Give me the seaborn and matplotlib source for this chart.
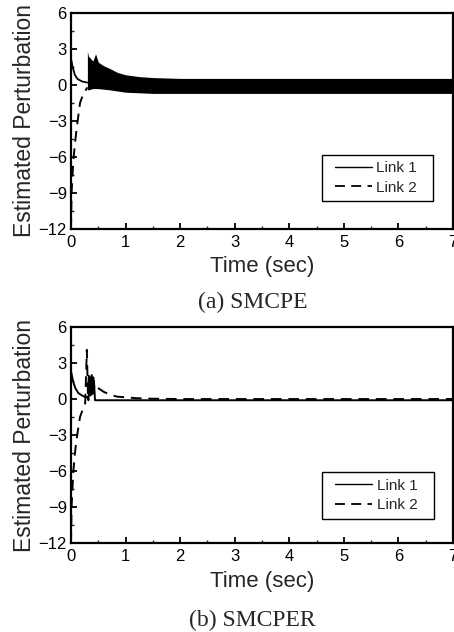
import numpy as np
import pandas as pd
import matplotlib
matplotlib.use("Agg")
import matplotlib.pyplot as plt
import seaborn as sns
from matplotlib.ticker import MultipleLocator
from matplotlib.patches import Rectangle

# ---------------- data ----------------
# (a) SMCPE
a_link1_t = [0.0, 0.03, 0.07, 0.12, 0.20, 0.28, 0.30]
a_link1_y = [2.2, 1.5, 0.85, 0.5, 0.3, 0.22, 0.2]
a_link2_t = [0.0, 0.01, 0.04, 0.07, 0.10, 0.165, 0.22, 0.26, 0.30]
a_link2_y = [-12.0, -9.0, -6.5, -5.0, -3.75, -1.5, -0.8, -0.5, -0.2]
# chattering band envelope (both links, t >= 0.3)
a_band_t = [0.30, 0.32, 0.36, 0.40, 0.45, 0.50, 0.60, 0.70, 0.85, 1.00, 1.25, 1.50, 2.00, 7.00]
a_band_hi = [2.8, 2.4, 2.2, 2.0, 2.6, 1.9, 1.6, 1.4, 1.05, 0.85, 0.70, 0.62, 0.55, 0.55]
a_band_lo = [-0.4, -0.4, -0.35, -0.3, -0.3, -0.3, -0.35, -0.4, -0.5, -0.6, -0.65, -0.7, -0.7, -0.7]

# (b) SMCPER
b_link1_t = [0.0, 0.04, 0.08, 0.135, 0.20, 0.26, 0.30, 0.32, 0.34, 0.36, 0.38, 0.40, 0.42, 0.44, 1.0, 7.0]
b_link1_y = [2.3, 1.45, 0.9, 0.5, 0.3, 0.17, 0.15, -0.1, 1.8, 0.3, 2.0, 0.5, 1.5, -0.1, -0.1, -0.1]
b_link2_t = [0.0, 0.01, 0.04, 0.07, 0.10, 0.165, 0.22, 0.26, 0.29, 0.31, 0.33, 0.35, 0.37, 0.39,
             0.41, 0.43, 0.45, 0.50, 0.60, 0.70, 0.84, 1.02, 1.20, 1.45, 2.0, 7.0]
b_link2_y = [-12.0, -9.0, -6.2, -4.6, -3.4, -1.5, -0.8, -0.35, 4.1, 0.5, 2.2, 0.6, 2.1, 0.4,
             1.8, 0.8, 1.0, 0.9, 0.6, 0.4, 0.2, 0.14, 0.07, 0.03, 0.0, 0.0]

x_ticks = [0, 1, 2, 3, 4, 5, 6, 7]
y_ticks = [-12, -9, -6, -3, 0, 3, 6]
series_names = ["Link 1", "Link 2"]
captions = ["(a) SMCPE", "(b) SMCPER"]
x_label = "Time (sec)"
y_label = "Estimated Perturbation"

# ---------------- style ----------------
sns.set_theme(style="ticks")
plt.rcParams["font.family"] = ["Liberation Sans", "DejaVu Sans"]
plt.rcParams["axes.linewidth"] = 1.6
plt.rcParams["xtick.direction"] = "in"
plt.rcParams["ytick.direction"] = "in"

DASH = (0, (5.5, 3.5))

fig = plt.figure(figsize=(4.54, 6.32), dpi=100)
ax_a = fig.add_axes([0.1564, 0.6377, 0.8414, 0.3417])
ax_b = fig.add_axes([0.1564, 0.1408, 0.8414, 0.3417])


def make_df(t, y, name):
    return pd.DataFrame({"t": t, "y": y, "series": name})


def style_axes(ax, box):
    ax.set_xlim(0, 7)
    ax.set_ylim(-12, 6)
    ax.set_xticks(x_ticks)
    ax.set_yticks(y_ticks)
    ax.xaxis.set_minor_locator(MultipleLocator(0.5))
    ax.yaxis.set_minor_locator(MultipleLocator(1.5))
    ax.tick_params(which="major", length=4, width=1.3, labelsize=12, colors="black", pad=3)
    ax.tick_params(which="minor", length=2, width=1.0)
    ax.tick_params(axis="x", pad=4)
    for s in ax.spines.values():
        s.set_visible(True)
        s.set_color("black")
    ax.set_xlabel(x_label, fontsize=16, labelpad=5)
    ax.set_ylabel(y_label, fontsize=16.5, labelpad=2)
    h = [plt.Line2D([], [], color="black", lw=1.0, ls="-"),
         plt.Line2D([], [], color="black", lw=1.3, ls=DASH)]
    x0, y0, x1, y1 = box
    ax.add_patch(Rectangle((x0, y0), x1 - x0, y1 - y0, transform=ax.transAxes,
                           fill=True, facecolor="white", edgecolor="black", lw=1.0, zorder=4))
    leg = ax.legend(h, series_names, loc="center",
                    bbox_to_anchor=((x0 + x1) / 2 - 0.004, (y0 + y1) / 2),
                    fontsize=11, frameon=False, handlelength=2.4, handletextpad=0.3,
                    borderpad=0.0, labelspacing=0.35, borderaxespad=0)
    leg.set_zorder(5)


# (a)
sns.lineplot(data=make_df(a_link1_t, a_link1_y, "Link 1"), x="t", y="y", ax=ax_a,
             color="black", lw=1.3, estimator=None, sort=False, legend=False)
sns.lineplot(data=make_df(a_link2_t, a_link2_y, "Link 2"), x="t", y="y", ax=ax_a,
             color="black", lw=1.4, estimator=None, sort=False, legend=False,
             dashes=False, linestyle=DASH)
ax_a.fill_between(a_band_t, a_band_lo, a_band_hi, color="black", lw=0)
style_axes(ax_a, (0.657, 0.13, 0.948, 0.343))

# (b)
sns.lineplot(data=make_df(b_link1_t, b_link1_y, "Link 1"), x="t", y="y", ax=ax_b,
             color="black", lw=1.4, estimator=None, sort=False, legend=False)
sns.lineplot(data=make_df(b_link2_t, b_link2_y, "Link 2"), x="t", y="y", ax=ax_b,
             color="black", lw=1.4, estimator=None, sort=False, legend=False,
             dashes=False, linestyle=DASH)
style_axes(ax_b, (0.657, 0.111, 0.95, 0.329))

fig.text(0.5564, 1 - 302 / 632, captions[0], ha="center", va="center",
         fontsize=17, family=["Liberation Serif", "DejaVu Serif"])
fig.text(0.5564, 1 - 620 / 632, captions[1], ha="center", va="center",
         fontsize=17, family=["Liberation Serif", "DejaVu Serif"])

fig.savefig("out.png", dpi=100)
